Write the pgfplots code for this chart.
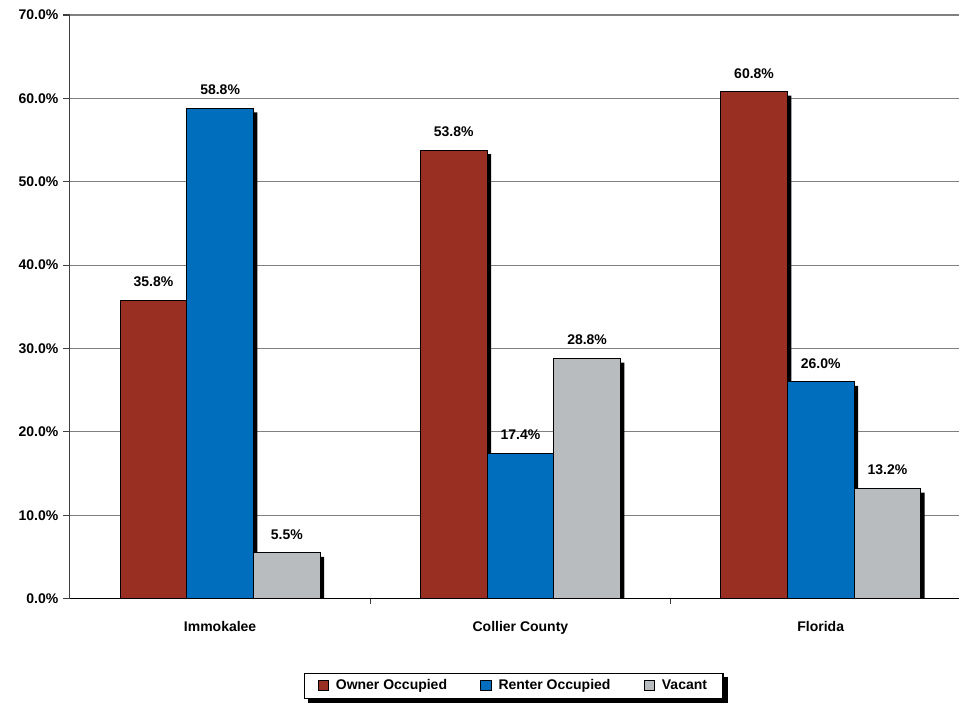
\documentclass[border=0pt]{standalone}
\usepackage{fontspec}
\setmainfont{Liberation Sans}
\usepackage{pgfplots}
\pgfplotsset{compat=1.18}

\definecolor{owner}{RGB}{153,46,34}
\definecolor{renter}{RGB}{0,110,188}
\definecolor{vacant}{RGB}{184,188,191}
\definecolor{gridgray}{RGB}{128,128,128}

\newcommand{\lbl}{\bfseries\fontsize{10.5}{12.6}\selectfont}

\pgfdeclarelayer{background}
\pgfsetlayers{background,main}

\begin{document}
\begin{tikzpicture}
% canvas: 720pt x 527.25pt, plot area 667.5pt x 438pt
\path (-52.5pt,-78pt) rectangle (667.5pt,449.25pt);
\begin{axis}[
  at={(0,0)}, anchor=south west,
  scale only axis,
  width=667.5pt, height=438pt,
  xmin=0, xmax=2.962,
  ymin=0, ymax=70,
  ytick distance=10,
  axis lines*=left,
  axis line style={line width=0.8pt},
  y axis line style={draw=black!75},
  ymajorgrids,
  grid style={gridgray, line width=0.8pt},
  tick align=outside,
  major tick length=5.25pt,
  minor tick length=4pt,
  tick style={black!75, line width=0.8pt},
  xtick={0.5,1.5,2.5},
  xticklabels={Immokalee,Collier County,Florida},
  major x tick style={draw=none},
  minor xtick={1,2},
  xticklabel style={font=\lbl, yshift=-8pt},
  yticklabel style={font=\lbl},
  /pgf/number format/assume math mode=true,
  yticklabel={\pgfmathprintnumber[fixed,fixed zerofill,precision=1]{\tick}\%},
  ybar,
  bar width=0.222,
  legend style={
    name=leg,
    at={(0.4989,-0.1498)}, anchor=center,
    draw=black, line width=0.8pt, fill=white,
    font=\lbl,
    nodes={text height=0.75em, text depth=0.22em},
    inner xsep=10pt, inner ysep=2.5pt,
    legend columns=3,
    /tikz/every odd column/.append style={column sep=3pt},
    /tikz/every even column/.append style={column sep=23pt},
  },
  legend cell align=left,
  legend image code/.code={%
    \draw[#1, draw=black, line width=0.6pt] (0pt,-3.4pt) rectangle (8pt,4.6pt);},
]
% drop shadows behind the bars
\addplot[forget plot, fill=black, draw=none, bar shift=-0.2087]
  coordinates {(0.5,35.32) (1.5,53.32) (2.5,60.32)};
\addplot[forget plot, fill=black, draw=none, bar shift=0.0133]
  coordinates {(0.5,58.32) (1.5,16.92) (2.5,25.52)};
\addplot[forget plot, fill=black, draw=none, bar shift=0.2353]
  coordinates {(0.5,5.02) (1.5,28.32) (2.5,12.72)};

% bars with value labels
\pgfplotsset{every axis plot/.append style={
  nodes near coords={\pgfmathprintnumber[fixed,fixed zerofill,precision=1]{\pgfplotspointmeta}\%},
  every node near coord/.append style={font=\lbl, text=black, yshift=6.5pt},
}}
\addplot[fill=owner, draw=black, line width=0.6pt, bar shift=-0.222]
  coordinates {(0.5,35.8) (1.5,53.8) (2.5,60.8)};
\addplot[fill=renter, draw=black, line width=0.6pt, bar shift=0]
  coordinates {(0.5,58.8) (1.5,17.4) (2.5,26.0)};
\addplot[fill=vacant, draw=black, line width=0.6pt, bar shift=0.222]
  coordinates {(0.5,5.5) (1.5,28.8) (2.5,13.2)};
\legend{Owner Occupied,Renter Occupied,Vacant}
\end{axis}
% shadow of the legend box
\begin{pgfonlayer}{background}
  \fill[black] ([xshift=3pt,yshift=-3pt]leg.south west) rectangle ([xshift=3pt,yshift=-3pt]leg.north east);
\end{pgfonlayer}
\end{tikzpicture}
\end{document}
